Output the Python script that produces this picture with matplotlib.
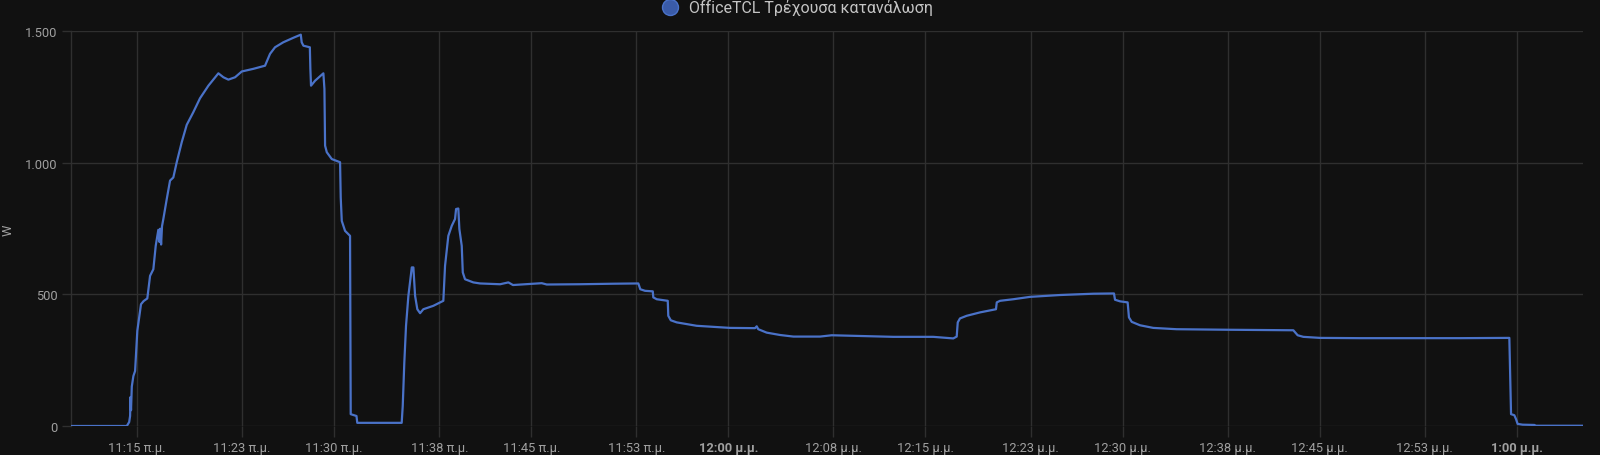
import matplotlib.pyplot as plt
from matplotlib.lines import Line2D

# ----------------- DATA -----------------
# time as minutes after 11:00, power in W
minutes = [9.95, 14.22, 14.40, 14.47, 14.50, 14.54, 14.60, 14.72, 14.85, 15.02,
           15.30, 15.50, 15.78, 15.99, 16.24, 16.42, 16.62, 16.70, 16.76, 16.83,
           16.90, 17.00, 17.26, 17.51, 17.76, 18.02, 18.40, 18.78, 19.28, 19.79,
           20.43, 21.19, 21.57, 21.95, 22.46, 22.97, 23.85, 24.61, 24.74, 25.12,
           25.50, 26.13, 26.89, 27.46, 27.53, 27.66, 28.15, 28.19, 28.24, 28.55,
           29.18, 29.26, 29.31, 29.44, 29.82, 30.45, 30.50, 30.58, 30.83, 31.21,
           31.26, 31.70, 31.76, 35.14, 35.22, 35.34, 35.47, 35.65, 35.91, 36.03,
           36.16, 36.33, 36.54, 36.79, 37.55, 38.31, 38.44, 38.69, 38.95, 39.20,
           39.28, 39.45, 39.53, 39.71, 39.79, 39.96, 40.59, 41.10, 42.63, 43.26,
           43.61, 45.80, 46.18, 48.71, 51.25, 53.15, 53.30, 53.66, 54.25, 54.29,
           54.55, 55.39, 55.43, 55.62, 56.07, 57.59, 60.13, 62.03, 62.16, 62.28,
           62.92, 63.94, 64.95, 66.98, 67.87, 69.51, 72.56, 75.60, 76.62, 77.12,
           77.38, 77.46, 77.63, 78.14, 79.16, 80.37, 80.43, 80.68, 81.69, 82.96,
           85.24, 87.78, 89.35, 89.43, 89.81, 90.39, 90.49, 90.70, 91.33, 92.34,
           94.12, 97.93, 103.00, 103.33, 103.76, 105.03, 108.07, 115.69, 119.44, 119.57,
           119.82, 119.95, 120.07, 120.45, 121.34, 121.47, 125.07]
watts = [0, 0, 15, 38, 110, 60, 150, 190, 209, 362,
         463, 475, 485, 571, 596, 685, 746, 700, 750, 690,
         760, 787, 863, 933, 945, 1003, 1079, 1145, 1193, 1246,
         1294, 1341, 1326, 1317, 1326, 1348, 1358, 1368, 1370, 1415,
         1440, 1459, 1476, 1488, 1459, 1446, 1440, 1358, 1294, 1313,
         1341, 1282, 1066, 1041, 1015, 1003, 869, 780, 742, 723,
         45, 38, 12, 12, 76, 241, 381, 495, 603, 603,
         495, 444, 429, 444, 457, 476, 609, 723, 761, 787,
         825, 827, 749, 685, 584, 558, 546, 542, 539, 546,
         536, 543, 538, 539, 541, 542, 520, 514, 512, 489,
         482, 476, 419, 402, 394, 381, 373, 372, 379, 368,
         355, 346, 340, 340, 345, 343, 339, 339, 335, 333,
         340, 394, 409, 419, 432, 444, 470, 476, 482, 491,
         498, 503, 504, 480, 474, 470, 413, 396, 383, 373,
         368, 366, 364, 345, 339, 335, 334, 334, 335, 45,
         41, 26, 8, 5, 4, 1, 1]

tick_minutes = [15, 23, 30, 38, 45, 53, 60, 68, 75, 83, 90, 98, 105, 113, 120]
tick_labels = ["11:15 π.μ.", "11:23 π.μ.", "11:30 π.μ.", "11:38 π.μ.", "11:45 π.μ.",
               "11:53 π.μ.", "12:00 μ.μ.", "12:08 μ.μ.", "12:15 μ.μ.", "12:23 μ.μ.",
               "12:30 μ.μ.", "12:38 μ.μ.", "12:45 μ.μ.", "12:53 μ.μ.", "1:00 μ.μ."]
bold_labels = ["12:00 μ.μ.", "1:00 μ.μ."]
y_ticks = [0, 500, 1000, 1500]
y_labels = ["0", "500", "1.000", "1.500"]
series_name = "OfficeTCL Τρέχουσα κατανάλωση"

# ----------------- STYLE -----------------
BG = '#111111'
GRID = '#2f2f2f'
TXT = '#a0a0a0'
LINE = '#4a72c8'
plt.rcParams['font.family'] = ['Roboto', 'DejaVu Sans']

fig = plt.figure(figsize=(16, 4.56), dpi=100, facecolor=BG)
ax = fig.add_axes([0.04419, 0.0636, 0.94538, 0.86513], facecolor=BG)

ax.plot(minutes, watts, color=LINE, linewidth=1.6, solid_joinstyle='round', zorder=3)

ax.set_xlim(9.95, 125.07)
ax.set_ylim(0, 1500)

ax.set_xticks(tick_minutes)
ax.set_xticklabels(tick_labels)
ax.set_yticks(y_ticks)
ax.set_yticklabels(y_labels)
for lbl in ax.get_xticklabels():
    if lbl.get_text() in bold_labels:
        lbl.set_fontweight('bold')
        lbl.set_color('#cfcfcf')

ax.grid(True, color=GRID, linewidth=1.0)
ax.tick_params(axis='x', colors=GRID, labelcolor=TXT, labelsize=9.3, length=8, width=1.0, pad=2.5)
ax.tick_params(axis='y', colors=GRID, labelcolor=TXT, labelsize=9.3, length=6.5, width=1.0, pad=3)
for side in ['top', 'right', 'bottom']:
    ax.spines[side].set_visible(False)
ax.spines['left'].set_color(GRID)
ax.spines['left'].set_linewidth(1.0)

# y axis title
fig.text(8.5 / 1600, 1 - 230 / 456, "W", rotation=90, color=TXT, fontsize=9.3,
         ha='center', va='center')

# ----------------- LEGEND -----------------
ly = 1 - 7.5 / 456
fig.add_artist(Line2D([670 / 1600], [ly], transform=fig.transFigure, marker='o',
                      markersize=11.5, markerfacecolor='#3a5ba8', markeredgecolor='#4a72c8',
                      markeredgewidth=1.0, linestyle='none'))
fig.text(689 / 1600, ly, series_name, color='#c4c4c4', fontsize=11.5, ha='left', va='center')

fig.savefig("out.png", dpi=100, facecolor=BG)
